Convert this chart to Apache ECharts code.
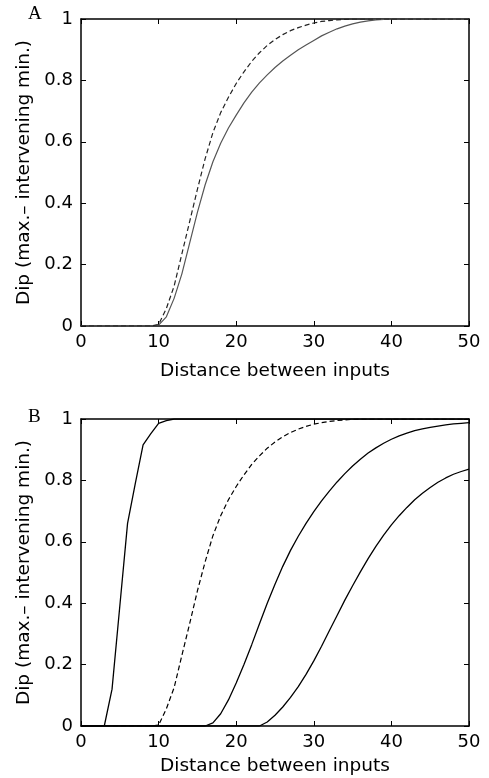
<!DOCTYPE html>
<html>
<head>
<meta charset="utf-8">
<script src="https://cdn.jsdelivr.net/npm/echarts@6/dist/echarts.min.js"></script>
<style>html,body{margin:0;padding:0;background:#fff}#c{width:489px;height:778px}</style>
</head>
<body>
<div id="c"></div>
<script>
var distance = [0,1,2,3,4,5,6,7,8,9,10,11,12,13,14,15,16,17,18,19,20,21,22,23,24,25,26,27,28,29,30,31,32,33,34,35,36,37,38,39,40,41,42,43,44,45,46,47,48,49,50];
var xTicks = [0,10,20,30,40,50];
var yTicks = [0,0.2,0.4,0.6,0.8,1];
var panelLabels = ['A','B'];
var xTitle = 'Distance between inputs';
var yTitle = 'Dip (max.\u2013 intervening min.)';

// Panel A
var aSolid = [0,0,0,0,0,0,0,0,0,0,
  0.003,0.03,0.09,0.17,0.27,0.37,0.46,0.535,0.595,0.645,
  0.687,0.727,0.762,0.792,0.818,0.842,0.863,0.882,0.9,0.915,
  0.93,0.945,0.957,0.968,0.977,0.984,0.99,0.994,0.997,0.999,
  1,1,1,1,1,1,1,1,1,1,1];
var aDashed = [0,0,0,0,0,0,0,0,0,0,
  0.005,0.057,0.13,0.235,0.34,0.445,0.545,0.63,0.695,0.745,
  0.79,0.828,0.862,0.89,0.914,0.933,0.949,0.962,0.972,0.98,
  0.987,0.992,0.995,0.997,0.999,
  1,1,1,1,1,1,1,1,1,1,1,1,1,1,1,1];

// Panel B
var bSteep = [0,0,0,0,0.12,0.39,0.66,0.79,0.916,0.952,0.986,0.995,
  1,1,1,1,1,1,1,1,1,1,1,1,1,1,1,1,1,1,1,1,1,1,1,1,1,1,1,1,1,1,1,1,1,1,1,1,1,1,1];
var bDashed = [0,0,0,0,0,0,0,0,0,0,
  0.003,0.056,0.125,0.23,0.333,0.44,0.535,0.62,0.685,0.737,
  0.78,0.818,0.852,0.88,0.905,0.925,0.942,0.956,0.967,0.976,
  0.983,0.988,0.992,0.995,0.997,0.999,
  1,1,1,1,1,1,1,1,1,1,1,1,1,1,1];
var bMid = [0,0,0,0,0,0,0,0,0,0,0,0,0,0,0,0,0,
  0.01,0.04,0.085,0.14,0.2,0.265,0.333,0.4,0.462,0.52,0.572,0.618,0.66,0.698,
  0.733,0.765,0.795,0.822,0.847,0.869,0.889,0.906,0.921,0.934,0.945,0.954,0.962,0.968,
  0.973,0.977,0.981,0.984,0.986,0.988];
var bRight = [0,0,0,0,0,0,0,0,0,0,0,0,0,0,0,0,0,0,0,0,0,0,0,0,
  0.013,0.035,0.062,0.093,0.128,0.168,0.212,0.26,0.31,0.36,0.41,0.457,0.502,0.545,0.585,
  0.622,0.655,0.685,0.712,0.737,0.758,0.777,0.794,0.808,0.82,0.829,0.837];

function pts(arr){ return distance.map(function(d,i){ return [d, arr[i]]; }); }

var FONT = 'DejaVu Sans';
var TICK_FS = 18, NAME_FS = 18.5;
var grids = [
  {left:81, top:19, width:388, height:307},
  {left:81, top:419, width:388, height:307}
];
var xAxes = [], yAxes = [];
grids.forEach(function(g, gi){
  var nameGap = gi === 0 ? 36 : 31;
  xAxes.push({type:'value', gridIndex:gi, min:xTicks[0], max:xTicks[xTicks.length-1], interval:10,
    name:xTitle, nameLocation:'middle', nameGap:nameGap,
    nameTextStyle:{fontFamily:FONT, fontSize:NAME_FS, color:'#000'},
    axisLine:{lineStyle:{color:'#000', width:1.5}},
    axisTick:{inside:true, length:5, lineStyle:{color:'#000', width:1}},
    axisLabel:{fontFamily:FONT, fontSize:TICK_FS, color:'#000', margin:7},
    splitLine:{show:false}});
  xAxes.push({type:'value', gridIndex:gi, position:'top', min:xTicks[0], max:xTicks[xTicks.length-1], interval:10,
    axisLine:{onZero:false, lineStyle:{color:'#000', width:1.5}},
    axisTick:{inside:true, length:5, lineStyle:{color:'#000', width:1}},
    axisLabel:{show:false}, splitLine:{show:false}});
  yAxes.push({type:'value', gridIndex:gi, min:yTicks[0], max:yTicks[yTicks.length-1], interval:0.2,
    name:yTitle, nameLocation:'middle', nameGap:43,
    nameTextStyle:{fontFamily:FONT, fontSize:NAME_FS, color:'#000'},
    axisLine:{show:true, lineStyle:{color:'#000', width:1.5}},
    axisTick:{show:true, inside:true, length:5, lineStyle:{color:'#000', width:1}},
    axisLabel:{fontFamily:FONT, fontSize:TICK_FS, color:'#000', margin:8},
    splitLine:{show:false}});
  yAxes.push({type:'value', gridIndex:gi, position:'right', min:yTicks[0], max:yTicks[yTicks.length-1], interval:0.2,
    axisLine:{show:true, onZero:false, lineStyle:{color:'#000', width:1.5}},
    axisTick:{show:true, inside:true, length:5, lineStyle:{color:'#000', width:1}},
    axisLabel:{show:false}, splitLine:{show:false}});
});

function line(data, gi, color, width, dashed){
  return {type:'line', xAxisIndex:gi*2, yAxisIndex:gi*2, data:pts(data), showSymbol:false, symbol:'none',
    smooth:false, lineStyle:{color:color, width:width, type: dashed ? [5,3] : 'solid'}, z:3, silent:true};
}

var chart = echarts.init(document.getElementById('c'), null, {renderer:'canvas'});
chart.setOption({
  animation:false,
  backgroundColor:'#fff',
  grid:grids,
  xAxis:xAxes,
  yAxis:yAxes,
  graphic:[
    {type:'text', left:28, top:5, style:{text:panelLabels[0], font:'19px "Liberation Serif"', fill:'#000'}},
    {type:'text', left:28, top:408, style:{text:panelLabels[1], font:'19px "Liberation Serif"', fill:'#000'}}
  ],
  series:[
    line(aSolid, 0, '#555', 1.2, false),
    line(aDashed, 0, '#222', 1.2, true),
    line(bSteep, 1, '#000', 1.3, false),
    line(bDashed, 1, '#000', 1.2, true),
    line(bMid, 1, '#000', 1.3, false),
    line(bRight, 1, '#000', 1.3, false)
  ]
});
</script>
</body>
</html>
